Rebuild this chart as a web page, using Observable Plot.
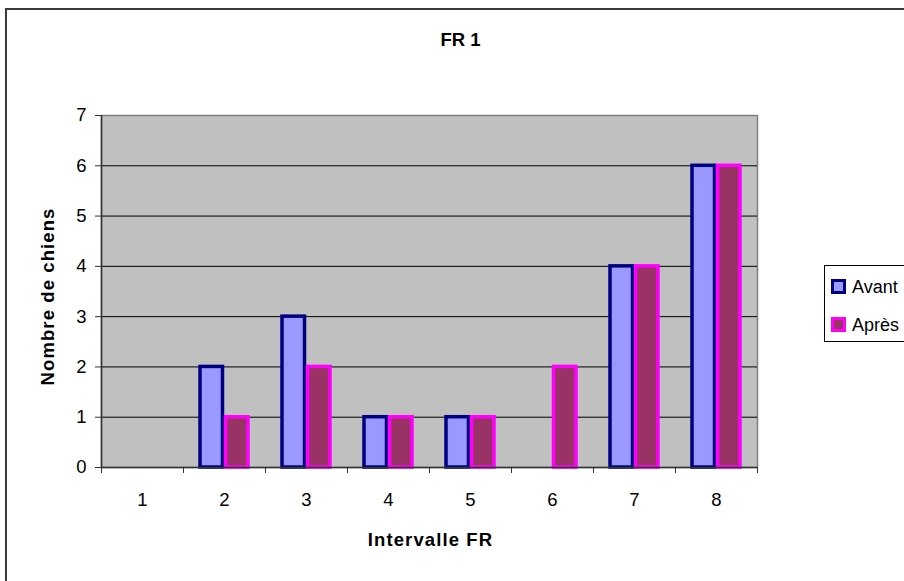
<!DOCTYPE html>
<html>
<head>
<meta charset="utf-8">
<script src="https://cdn.jsdelivr.net/npm/d3@7"></script>
<script src="https://cdn.jsdelivr.net/npm/@observablehq/plot@0.6"></script>
<style>
  html, body { margin: 0; padding: 0; background: #fff; }
  #wrap { position: relative; width: 904px; height: 581px; overflow: hidden; background: #fff;
          font-family: "Liberation Sans", Arial, sans-serif; color: #000; }
  #wrap svg { position: absolute; left: 0; top: 0; }
  #outer { position: absolute; left: 5px; top: 8px; width: 1200px; height: 1200px;
           border: 2px solid #3a3a3a; box-sizing: border-box; pointer-events: none; }
  #legend { position: absolute; left: 824px; top: 265px; width: 200px; height: 77px;
            border: 1px solid #000; box-sizing: border-box; background: #fff; }
  .sw { position: absolute; left: 6px; width: 15px; height: 15px; box-sizing: border-box; border: 3px solid; }
  .lbl { position: absolute; left: 27px; font-size: 18px; line-height: 18px; white-space: nowrap; }
</style>
</head>
<body>
<div id="wrap"></div>
<script>
// ---- data ----
const categories = ["1", "2", "3", "4", "5", "6", "7", "8"];
const avant = [0, 2, 3, 1, 1, 0, 4, 6];
const apres = [0, 1, 2, 1, 1, 2, 4, 6];
const seriesNames = ["Avant", "Après"];
const yTicks = [0, 1, 2, 3, 4, 5, 6, 7];
const gridValues = [1, 2, 3, 4, 5, 6];
const titleText = "FR 1";
const xTitle = "Intervalle FR";
const yTitle = "Nombre de chiens";

// ---- styles ----
const fills = ["#9999ff", "#993366"];
const strokes = ["#000080", "#ff00ff"];

const rowsA = categories.map((c, i) => ({cat: c, value: avant[i]})).filter(d => d.value > 0);
const rowsB = categories.map((c, i) => ({cat: c, value: apres[i]})).filter(d => d.value > 0);

const W = 904, H = 581;
const mL = 101, mR = 147, mT = 115, mB = 114;
const band = (W - mL - mR) / categories.length; // 82
const barW = 22.5, sw = 3.5, off = 12.75;
const inset = (band - barW) / 2;

const svg = Plot.plot({
  width: W, height: H,
  marginLeft: mL, marginRight: mR, marginTop: mT, marginBottom: mB,
  style: {fontFamily: "'Liberation Sans', Arial, sans-serif", fontSize: "18px", background: "none", color: "#000", overflow: "visible"},
  x: {domain: categories, padding: 0, axis: null},
  y: {domain: [0, 7], axis: null},
  marks: [
    Plot.frame({fill: "#c0c0c0", stroke: "#808080", strokeWidth: 1.5}),
    Plot.ruleY(gridValues, {stroke: "#000", strokeWidth: 1}),
    Plot.barY(rowsA, {x: "cat", y: "value", dx: -off, insetLeft: inset, insetRight: inset,
      fill: fills[0], stroke: strokes[0], strokeWidth: sw}),
    Plot.barY(rowsB, {x: "cat", y: "value", dx: off, insetLeft: inset, insetRight: inset,
      fill: fills[1], stroke: strokes[1], strokeWidth: sw}),
    Plot.ruleY([0], {stroke: "#333", strokeWidth: 1.5}),
    Plot.ruleX([categories[0]], {dx: -band / 2, stroke: "#333", strokeWidth: 1.5}),
    Plot.axisY(yTicks, {anchor: "left", tickSize: 6, tickPadding: 9, tickFormat: d => String(d), label: null, stroke: "#333", fontSize: 18.5}),
    Plot.axisX(categories, {anchor: "bottom", tickSize: 0, tickPadding: 25, label: null, fontSize: 18.5}),
    Plot.axisX(categories, {anchor: "bottom", tickSize: 6, tickFormat: () => "", label: null, dx: -band / 2, stroke: "#333"}),
    Plot.axisX([categories[categories.length - 1]], {anchor: "bottom", tickSize: 6, tickFormat: () => "", label: null, dx: band / 2, stroke: "#333"}),
    Plot.text([titleText], {text: d => d, frameAnchor: "top", textAnchor: "middle", dx: 31, dy: -75, fontWeight: "bold", fontSize: 18.5, lineAnchor: "middle"}),
    Plot.text([xTitle], {text: d => d, frameAnchor: "bottom", textAnchor: "middle", dx: 1, dy: 73, fontWeight: "bold", fontSize: 18.5, lineAnchor: "middle"}),
    Plot.text([yTitle], {text: d => d, frameAnchor: "left", textAnchor: "middle", rotate: -90, dx: -53, dy: 5, fontWeight: "bold", fontSize: 18.5, lineAnchor: "middle"})
  ]
});

const wrap = document.getElementById("wrap");
wrap.appendChild(svg);
d3.select(svg).selectAll("text").filter(function() {
  return this.textContent === xTitle || this.textContent === yTitle;
}).style("letter-spacing", "1.1px");

const outer = document.createElement("div");
outer.id = "outer";
wrap.appendChild(outer);

const legend = document.createElement("div");
legend.id = "legend";
seriesNames.forEach((name, i) => {
  const top = i === 0 ? 12 : 50;
  const s = document.createElement("div");
  s.className = "sw";
  s.style.top = (top + 1) + "px";
  s.style.background = fills[i];
  s.style.borderColor = strokes[i];
  legend.appendChild(s);
  const t = document.createElement("div");
  t.className = "lbl";
  t.style.top = top + "px";
  t.textContent = name;
  legend.appendChild(t);
});
wrap.appendChild(legend);
</script>
</body>
</html>
